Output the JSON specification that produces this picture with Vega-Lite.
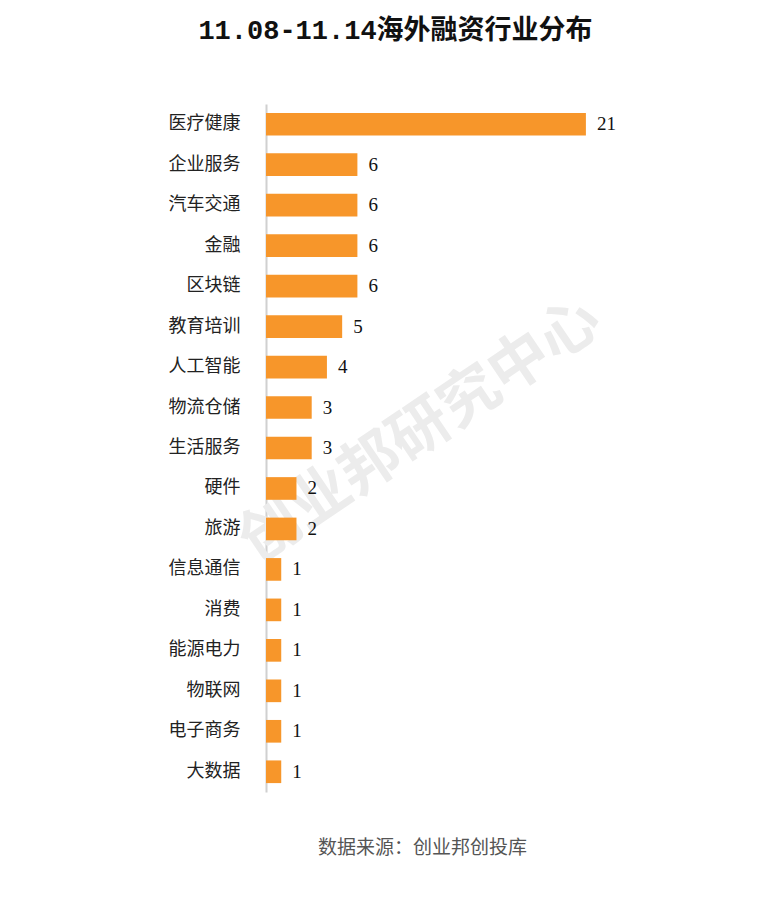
{
  "$schema": "https://vega.github.io/schema/vega-lite/v6.json",
  "autosize": "none",
  "width": 457,
  "height": 688,
  "padding": {"left": 266, "top": 104, "right": 52, "bottom": 107},
  "background": "#ffffff",
  "title": {
    "text": "11.08-11.14海外融资行业分布",
    "font": "Liberation Mono, Noto Sans CJK SC",
    "fontSize": 27,
    "fontWeight": "bold",
    "color": "#111111",
    "anchor": "middle",
    "dx": -99,
    "offset": 46,
    "baseline": "middle"
  },
  "data": {
    "values": [
      {"industry": "医疗健康", "count": 21},
      {"industry": "企业服务", "count": 6},
      {"industry": "汽车交通", "count": 6},
      {"industry": "金融", "count": 6},
      {"industry": "区块链", "count": 6},
      {"industry": "教育培训", "count": 5},
      {"industry": "人工智能", "count": 4},
      {"industry": "物流仓储", "count": 3},
      {"industry": "生活服务", "count": 3},
      {"industry": "硬件", "count": 2},
      {"industry": "旅游", "count": 2},
      {"industry": "信息通信", "count": 1},
      {"industry": "消费", "count": 1},
      {"industry": "能源电力", "count": 1},
      {"industry": "物联网", "count": 1},
      {"industry": "电子商务", "count": 1},
      {"industry": "大数据", "count": 1}
    ]
  },
  "encoding": {
    "y": {
      "field": "industry",
      "type": "nominal",
      "sort": null,
      "scale": {
        "domain": ["医疗健康", "企业服务", "汽车交通", "金融", "区块链", "教育培训", "人工智能", "物流仓储", "生活服务", "硬件", "旅游", "信息通信", "消费", "能源电力", "物联网", "电子商务", "大数据"],
        "paddingInner": 0.44,
        "paddingOuter": 0.22
      },
      "axis": {
        "title": null,
        "ticks": false,
        "domainColor": "#d0d0d0",
        "domainWidth": 2,
        "labelFont": "Noto Sans CJK SC",
        "labelFontSize": 18,
        "labelColor": "#222222",
        "labelPadding": 26
      }
    },
    "x": {
      "field": "count",
      "type": "quantitative",
      "scale": {"domain": [0, 30], "nice": false},
      "axis": {
        "labels": false,
        "ticks": false,
        "domain": false,
        "grid": false,
        "title": "数据来源：创业邦创投库",
        "titleFont": "Noto Sans CJK SC",
        "titleFontSize": 19,
        "titleFontWeight": "normal",
        "titleColor": "#555555",
        "titleX": 156,
        "titleY": 55,
        "titleBaseline": "middle"
      }
    }
  },
  "layer": [
    {
      "data": {"values": [{"industry": "生活服务", "count": 10.9, "mark": "创业邦研究中心"}]},
      "mark": {
        "type": "text",
        "angle": -34,
        "fontSize": 60,
        "fontWeight": "bold",
        "font": "Noto Sans CJK SC",
        "color": "#ececec",
        "dy": -20
      },
      "encoding": {"text": {"field": "mark"}}
    },
    {
      "mark": {"type": "bar", "color": "#F7962A"}
    },
    {
      "mark": {
        "type": "text",
        "align": "left",
        "dx": 11,
        "font": "Liberation Serif",
        "fontSize": 19,
        "color": "#111111"
      },
      "encoding": {"text": {"field": "count", "type": "quantitative"}}
    }
  ],
  "config": {"view": {"stroke": null}}
}
